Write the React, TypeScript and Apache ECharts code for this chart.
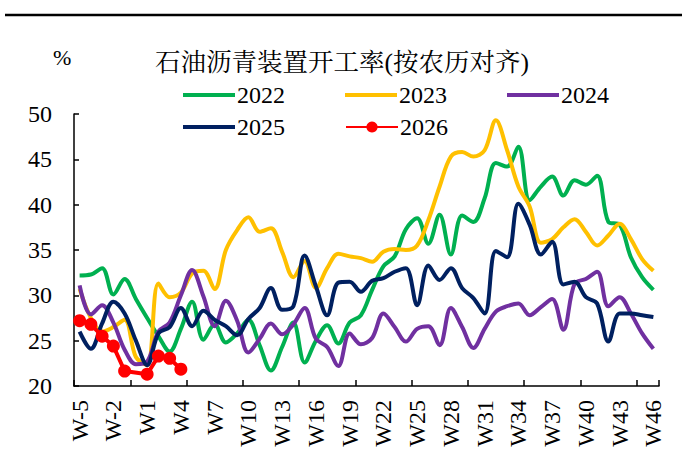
import React, { useEffect, useRef } from 'react';
import * as echarts from 'echarts';

const categories = [
  'W-5', 'W-4', 'W-3', 'W-2', 'W-1', 'W0',
  'W1', 'W2', 'W3', 'W4', 'W5', 'W6', 'W7', 'W8', 'W9', 'W10',
  'W11', 'W12', 'W13', 'W14', 'W15', 'W16', 'W17', 'W18', 'W19', 'W20',
  'W21', 'W22', 'W23', 'W24', 'W25', 'W26', 'W27', 'W28', 'W29', 'W30',
  'W31', 'W32', 'W33', 'W34', 'W35', 'W36', 'W37', 'W38', 'W39', 'W40',
  'W41', 'W42', 'W43', 'W44', 'W45', 'W46',
];

const y2022 = [32.2, 32.3, 33.0, 30.1, 31.8, 29.6, 27.5, 25.5, 23.8, 26.3,
  29.3, 25.1, 26.8, 24.8, 25.8, 27.3, 24.5, 21.7, 24.3, 27.0,
  22.6, 25.0, 26.7, 24.7, 27.0, 27.8, 30.6, 33.2, 34.3, 37.3,
  38.5, 35.7, 38.9, 34.5, 38.8, 38.1, 40.7, 44.6, 44.2, 46.4,
  40.5, 42.0, 43.1, 41.0, 42.7, 42.2, 43.2, 38.1, 37.8, 34.2, 32.0, 30.6];

const y2023 = [30.7, 27.5, 26.0, 26.5, 27.3, 23.2, 22.3, 31.3, 29.8, 30.3,
  32.4, 32.7, 30.7, 35.0, 37.2, 38.6, 37.0, 37.4, 34.8, 32.0,
  33.8, 30.8, 33.0, 34.6, 34.3, 34.1, 33.7, 34.8, 35.1, 35.0,
  35.5, 38.3, 42.0, 45.3, 45.8, 45.3, 46.0, 49.3, 46.0, 42.0,
  39.8, 35.8, 36.2, 37.5, 38.4, 37.0, 35.5, 36.6, 37.9, 36.2, 34.0, 32.7];

const y2024 = [31.1, 27.9, 28.9, 27.0, 24.0, 22.4, 22.7, 26.0, 27.0, 30.0,
  32.8, 29.9, 26.6, 29.4, 27.2, 23.7, 25.2, 26.9, 25.7, 26.8,
  28.6, 25.2, 24.3, 22.2, 25.8, 24.6, 25.3, 28.0, 26.5, 24.9,
  26.3, 26.6, 24.5, 28.6, 26.5, 24.2, 26.3, 28.2, 28.8, 29.1,
  27.8, 28.7, 29.6, 26.2, 31.3, 31.8, 32.6, 28.8, 29.8, 28.0, 25.8, 24.1];

const y2025 = [26.0, 24.1, 26.9, 29.3, 28.0, 25.0, 22.3, 25.8, 26.5, 28.6,
  26.6, 28.3, 27.3, 26.6, 25.6, 27.4, 28.6, 30.8, 28.4, 28.8,
  34.4, 31.0, 27.8, 31.4, 31.5, 30.4, 31.6, 31.9, 32.6, 33.0,
  28.9, 33.3, 31.7, 33.0, 30.8, 29.7, 28.0, 34.9, 34.2, 40.1,
  37.8, 34.5, 35.9, 31.2, 31.5, 29.8, 29.1, 24.9, 28.0, 28.0, 27.8, 27.6];

const y2026 = [27.2, 26.8, 25.5, 24.4, 21.65, null, 21.3, 23.3, 23.05, 21.85];

const yTicks = { min: 20, max: 50, interval: 5 };

const FONT = "'Times New Roman', 'Liberation Serif', 'Noto Serif CJK SC', 'Noto Sans CJK SC', serif";
const BAR_ICON = 'path://M0,0h52v4h-52z';

export default function App() {
  const ref = useRef<HTMLDivElement>(null);
  useEffect(() => {
    const chart = echarts.init(ref.current!, null, { renderer: 'svg' });
    const mk = (name: string, data: (number | null)[], color: string) => ({
      name,
      type: 'line',
      data,
      smooth: 0.35,
      symbol: 'none',
      lineStyle: { color, width: 4 },
      itemStyle: { color },
    });
    const legendText = { fontFamily: FONT, fontSize: 24, color: '#000', padding: [0, 0, 0, -3] };
    const leg = (name: string, left: number, top: number, bar: boolean) => ({
      data: [bar ? { name, icon: BAR_ICON } : { name }],
      left, top, itemWidth: 52, itemHeight: 14, padding: 0,
      textStyle: legendText,
    });
    chart.setOption({
      animation: false,
      textStyle: { fontFamily: FONT },
      title: {
        text: '石油沥青装置开工率(按农历对齐)',
        left: 342,
        top: 50,
        padding: 0,
        textAlign: 'center',
        textStyle: { fontFamily: FONT, fontSize: 25.5, fontWeight: 'normal', color: '#000' },
      },
      graphic: [
        { type: 'line', shape: { x1: 5, y1: 15, x2: 682, y2: 15 }, style: { stroke: '#000', lineWidth: 2.5 } },
        { type: 'text', left: 53, top: 46, style: { text: '%', fontFamily: FONT, fontSize: 22, fill: '#000' } },
      ],
      legend: [
        leg('2022', 183, 83, true),
        leg('2023', 345, 83, true),
        leg('2024', 507, 83, true),
        leg('2025', 183, 115, true),
        leg('2026', 345, 115, false),
      ],
      grid: { left: 74, right: 23, top: 114, bottom: 77, containLabel: false },
      xAxis: {
        type: 'category',
        data: categories,
        boundaryGap: true,
        axisLine: { lineStyle: { color: '#000', width: 1.5 } },
        axisTick: { show: true, inside: true, length: 6, interval: 4, lineStyle: { color: '#000', width: 1.5 } },
        axisLabel: { interval: 2, rotate: 90, margin: 14, fontFamily: FONT, fontSize: 24, color: '#000' },
        splitLine: { show: false },
      },
      yAxis: {
        type: 'value',
        min: yTicks.min, max: yTicks.max, interval: yTicks.interval,
        axisLine: { show: true, lineStyle: { color: '#000', width: 1.5 } },
        axisTick: { show: true, inside: true, length: 5, lineStyle: { color: '#000', width: 1.5 } },
        axisLabel: { margin: 22, fontFamily: FONT, fontSize: 24, color: '#000' },
        splitLine: { show: false },
      },
      series: [
        mk('2022', y2022, '#00B050'),
        mk('2023', y2023, '#FFC000'),
        mk('2024', y2024, '#7030A0'),
        mk('2025', y2025, '#002060'),
        {
          name: '2026', type: 'line', data: y2026, smooth: false, connectNulls: true,
          symbol: 'circle', symbolSize: 13, showAllSymbol: true,
          lineStyle: { color: '#FF0000', width: 4 },
          itemStyle: { color: '#FF0000' },
        },
      ],
    });
    return () => chart.dispose();
  }, []);
  return <div ref={ref} style={{ position: 'absolute', left: 0, top: 0, width: 682, height: 463 }} />;
}
